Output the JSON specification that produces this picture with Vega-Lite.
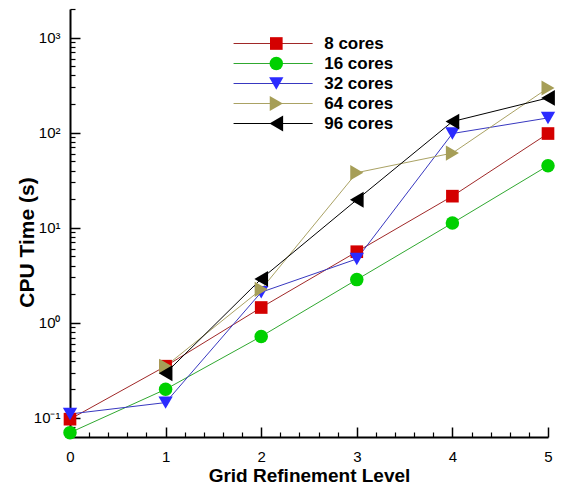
{
  "$schema": "https://vega.github.io/schema/vega-lite/v6.json",
  "width": 478,
  "height": 428,
  "autosize": {"type": "none"},
  "padding": {"left": 70, "top": 9, "right": 16, "bottom": 54},
  "background": "white",
  "config": {"view": {"stroke": null}, "font": "Liberation Sans"},
  "data": {
    "values": [
      {"level": 0, "cores": "8 cores", "series": "8", "time": 0.097},
      {"level": 1, "cores": "8 cores", "series": "8", "time": 0.35},
      {"level": 2, "cores": "8 cores", "series": "8", "time": 1.45},
      {"level": 3, "cores": "8 cores", "series": "8", "time": 5.6},
      {"level": 4, "cores": "8 cores", "series": "8", "time": 21.5},
      {"level": 5, "cores": "8 cores", "series": "8", "time": 98},
      {"level": 0, "cores": "16 cores", "series": "16", "time": 0.07},
      {"level": 1, "cores": "16 cores", "series": "16", "time": 0.2},
      {"level": 2, "cores": "16 cores", "series": "16", "time": 0.72},
      {"level": 3, "cores": "16 cores", "series": "16", "time": 2.85},
      {"level": 4, "cores": "16 cores", "series": "16", "time": 11.2},
      {"level": 5, "cores": "16 cores", "series": "16", "time": 45},
      {"level": 0, "cores": "32 cores", "series": "32", "time": 0.11},
      {"level": 1, "cores": "32 cores", "series": "32", "time": 0.145},
      {"level": 2, "cores": "32 cores", "series": "32", "time": 2.1},
      {"level": 3, "cores": "32 cores", "series": "32", "time": 4.7},
      {"level": 4, "cores": "32 cores", "series": "32", "time": 98},
      {"level": 5, "cores": "32 cores", "series": "32", "time": 143},
      {"level": 1, "cores": "64 cores", "series": "64", "time": 0.35},
      {"level": 2, "cores": "64 cores", "series": "64", "time": 2.25},
      {"level": 3, "cores": "64 cores", "series": "64", "time": 38},
      {"level": 4, "cores": "64 cores", "series": "64", "time": 61},
      {"level": 5, "cores": "64 cores", "series": "64", "time": 295},
      {"level": 1, "cores": "96 cores", "series": "96", "time": 0.295},
      {"level": 2, "cores": "96 cores", "series": "96", "time": 2.9},
      {"level": 3, "cores": "96 cores", "series": "96", "time": 19.7},
      {"level": 4, "cores": "96 cores", "series": "96", "time": 131},
      {"level": 5, "cores": "96 cores", "series": "96", "time": 232}
    ]
  },
  "encoding": {
    "x": {
      "field": "level",
      "type": "quantitative",
      "scale": {"domain": [0, 5], "nice": false, "zero": false},
      "axis": {
        "title": "Grid Refinement Level",
        "values": [0, 1, 2, 3, 4, 5],
        "format": "d",
        "labelOverlap": false,
        "labelFlush": false,
        "grid": false,
        "domainColor": "black",
        "domainWidth": 2,
        "tickColor": "black",
        "tickWidth": 1.5,
        "tickSize": -10,
        "labelFontSize": 15,
        "labelColor": "black",
        "labelPadding": 22,
        "titleFontSize": 19,
        "titleFontWeight": "bold",
        "titleColor": "black",
        "titleY": 29
      }
    },
    "y": {
      "field": "time",
      "type": "quantitative",
      "scale": {"type": "log", "domain": [0.063, 2000], "nice": false},
      "axis": {
        "title": "CPU Time (s)",
        "values": [0.1, 1, 10, 100, 1000],
        "labelExpr": "datum.value == 1000 ? '10³' : datum.value == 100 ? '10²' : datum.value == 10 ? '10¹' : datum.value == 1 ? '10⁰' : '10⁻¹'",
        "labelOverlap": false,
        "labelFlush": false,
        "grid": false,
        "domainColor": "black",
        "domainWidth": 2,
        "tickColor": "black",
        "tickWidth": 1.5,
        "tickSize": -10,
        "labelFontSize": 15,
        "labelColor": "black",
        "labelPadding": 20,
        "titleFontSize": 21,
        "titleFontWeight": "bold",
        "titleColor": "black",
        "titlePadding": -4,
        "titleY": 233
      }
    }
  },
  "resolve": {"axis": {"x": "independent", "y": "independent"}},
  "layer": [
    {
      "mark": {"type": "line", "strokeWidth": 1},
      "encoding": {
        "stroke": {
          "field": "series",
          "type": "nominal",
          "scale": {
            "domain": ["8", "16", "32", "64", "96"],
            "range": ["#a02828", "#30a830", "#3838c0", "#aaa264", "#000000"]
          },
          "legend": {
            "orient": "none",
            "legendX": 194.6,
            "legendY": 26,
            "title": null,
            "padding": 0,
            "symbolType": "M-5,0H5",
            "symbolSize": 250,
            "symbolStrokeWidth": 1,
            "symbolFillColor": "transparent",
            "labelExpr": "' '",
            "labelFontSize": 17,
            "labelFontWeight": "bold",
            "rowPadding": 2
          }
        }
      }
    },
    {
      "mark": {"type": "point", "filled": true, "opacity": 1, "strokeWidth": 0},
      "encoding": {
        "x": {
          "field": "level",
          "type": "quantitative",
          "axis": {
            "orient": "bottom",
            "title": null,
            "labels": false,
            "domain": false,
            "grid": false,
            "values": [0.2, 0.4, 0.6, 0.8, 1.2, 1.4, 1.6, 1.8, 2.2, 2.4, 2.6, 2.8, 3.2, 3.4, 3.6, 3.8, 4.2, 4.4, 4.6, 4.8],
            "tickColor": "black",
            "tickWidth": 1.2,
            "tickSize": -5
          }
        },
        "y": {
          "field": "time",
          "type": "quantitative",
          "axis": {
            "orient": "left",
            "title": null,
            "labels": false,
            "domain": false,
            "grid": false,
            "values": [0.07, 0.08, 0.09, 0.2, 0.3, 0.4, 0.5, 0.6, 0.7, 0.8, 0.9, 2, 3, 4, 5, 6, 7, 8, 9, 20, 30, 40, 50, 60, 70, 80, 90, 200, 300, 400, 500, 600, 700, 800, 900, 2000],
            "tickColor": "black",
            "tickWidth": 1.2,
            "tickSize": -5
          }
        },
        "fill": {
          "field": "cores",
          "type": "nominal",
          "scale": {
            "domain": ["8 cores", "16 cores", "32 cores", "64 cores", "96 cores"],
            "range": ["#d40000", "#00d000", "#2b2bff", "#a69e57", "#000000"]
          },
          "legend": {
            "orient": "none",
            "legendX": 197.8,
            "legendY": 26,
            "title": null,
            "padding": 0,
            "labelOffset": 39.4,
            "labelFontSize": 17,
            "labelFontWeight": "bold",
            "labelColor": "black",
            "symbolStrokeWidth": 0,
            "rowPadding": 2
          }
        },
        "shape": {
          "field": "cores",
          "type": "nominal",
          "scale": {
            "domain": ["8 cores", "16 cores", "32 cores", "64 cores", "96 cores"],
            "range": ["square", "circle", "triangle-down", "triangle-right", "triangle-left"]
          }
        },
        "size": {
          "field": "cores",
          "type": "nominal",
          "scale": {
            "domain": ["8 cores", "16 cores", "32 cores", "64 cores", "96 cores"],
            "range": [160, 250, 180, 180, 180]
          }
        }
      }
    }
  ]
}
